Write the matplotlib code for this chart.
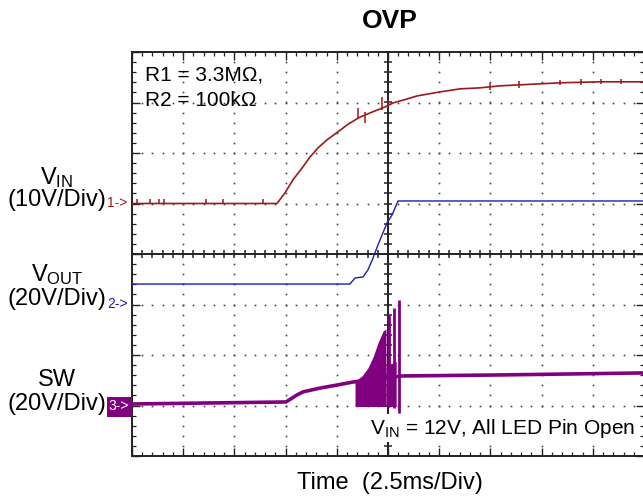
import numpy as np
import matplotlib.pyplot as plt
from matplotlib.patches import Rectangle

plt.rcParams['font.family'] = ['Liberation Sans', 'DejaVu Sans']
plt.rcParams['mathtext.fontset'] = 'custom'
plt.rcParams['mathtext.rm'] = 'Liberation Sans'
plt.rcParams['mathtext.it'] = 'Liberation Sans:italic'

# scope settings
ms_per_div = 2.5
n_xdiv = 10
n_ydiv = 8
vin_offset, vin_scale = 1.0, 10.0      # div, V/div
vout_offset, vout_scale = -1.0, 20.0
sw_offset, sw_scale = -3.0, 20.0

# CH1 VIN (ms, V)
vin_t = [0, 7.08, 7.47, 7.86, 8.30, 8.69, 9.08, 9.52, 10.06, 10.55, 11.13, 11.72,
         12.35, 12.74, 13.43, 13.92, 15.04, 16.02, 16.99, 17.97, 18.95, 19.92,
         20.90, 22.85, 25.0]
vin_v = [0, 0, 2.1, 4.7, 7.0, 9.2, 11.0, 12.6, 14.2, 15.7, 17.1, 18.1,
         19.1, 19.9, 20.7, 21.3, 22.1, 22.7, 22.9, 23.3, 23.5, 23.7,
         23.9, 24.1, 24.1]
vin_glitch_t = [0.24, 0.88, 1.32, 1.56, 3.61, 4.44, 6.40, 11.04, 11.38, 12.21,
                12.5, 17.5, 18.9, 20.9, 21.9, 22.9, 23.9]
vin_glitch_lo = [0, 0, 0, 0, 0, 0, 0, 16.9, 15.9, 18.5, 18.9, 22.4, 22.9, 23.4,
                 23.5, 23.6, 23.6]
vin_glitch_hi = [0.8, 0.8, 0.8, 0.8, 0.8, 0.8, 0.8, 18.9, 18.1, 21.1, 20.5,
                 23.8, 24.2, 24.4, 24.6, 24.6, 24.7]

# CH2 VOUT (ms, V)
vout_t = [0, 10.64, 10.89, 11.28, 11.52, 11.77, 12.01, 12.21, 12.45, 12.70, 12.99, 25.0]
vout_v = [8.1, 8.1, 10.5, 10.9, 13.7, 18.4, 23.6, 27.5, 32.3, 35.5, 41.0, 41.0]

# CH3 SW (ms, V)
sw_t = [0, 7.52, 8.06, 8.35, 9.18, 10.01, 10.79, 13.18, 17.97, 25.0]
sw_v = [0.6, 1.4, 4.2, 5.4, 6.9, 8.1, 9.3, 11.7, 12.1, 12.9]
# switching burst before OVP trips
burst_t = [10.89, 11.23, 11.52, 11.77, 12.01, 12.26, 12.40]
burst_top = [9.7, 11.7, 14.9, 19.2, 24.8, 29.5, 30.3]
burst_low = -0.4
tail_t = [12.40, 12.90]
tail_top = [15.5, 17.5]
spike_t = [12.57, 12.79, 13.04]
spike_top = [35.8, 38.6, 41.8]
spike_low = [-0.6, -1.0, -3.0]

c1 = '#9a1a1a'
c2 = '#1c1cb0'
c3 = '#800080'


def to_div(v, off, sc):
    return off + np.asarray(v, dtype=float) / sc


fig = plt.figure(figsize=(6.43, 5.03), dpi=100)
ax = fig.add_axes([132 / 643, 47 / 503, 512 / 643, 404 / 503])
t_max = ms_per_div * n_xdiv
ax.set_xlim(0, t_max)
ax.set_ylim(-n_ydiv / 2, n_ydiv / 2)

ax.set_xticks(np.arange(0, t_max + 0.01, ms_per_div))
ax.set_xticks(np.arange(0, t_max + 0.01, ms_per_div / 5), minor=True)
ax.set_yticks(np.arange(-4, 4.01, 1))
ax.set_yticks(np.arange(-4, 4.01, 0.2), minor=True)
ax.tick_params(which='both', direction='in', top=True, right=True,
               labelbottom=False, labelleft=False, color='#222')
ax.tick_params(which='major', length=6, width=1.0)
ax.tick_params(which='minor', length=3.2, width=0.9)
for s in ax.spines.values():
    s.set_linewidth(1.4)
    s.set_color('#222')

# dotted graticule
xs = np.arange(0, t_max + 0.01, ms_per_div / 5)
ys = np.arange(-4, 4.01, 0.2)
for gx in np.arange(ms_per_div, t_max, ms_per_div):
    if abs(gx - t_max / 2) > 0.01:
        ax.plot(np.full_like(ys, gx), ys, ls='none', marker='s', ms=1.2,
                mew=0, color='#444', zorder=1)
for gy in range(-3, 4):
    if gy != 0:
        ax.plot(xs, np.full_like(xs, gy), ls='none', marker='s', ms=1.2,
                mew=0, color='#444', zorder=1)

# centre cross with ticks
ax.axvline(t_max / 2, color='#222', lw=1.4, zorder=1)
ax.axhline(0, color='#222', lw=1.4, zorder=1)
ax.plot(xs, np.zeros_like(xs), ls='none', marker='|', ms=6, mew=1.1, color='#222', zorder=1)
ax.plot(np.full_like(ys, t_max / 2), ys, ls='none', marker='_', ms=6, mew=1.1,
        color='#222', zorder=1)

# traces
ax.plot(vin_t, to_div(vin_v, vin_offset, vin_scale), color=c1, lw=1.2, zorder=3)
ax.vlines(vin_glitch_t, to_div(vin_glitch_lo, vin_offset, vin_scale),
          to_div(vin_glitch_hi, vin_offset, vin_scale), color=c1, lw=1.1, zorder=3)
ax.plot(vout_t, to_div(vout_v, vout_offset, vout_scale), color=c2, lw=1.0, zorder=3)
ax.plot(sw_t, to_div(sw_v, sw_offset, sw_scale), color=c3, lw=2.6, zorder=3)
ax.fill_between(burst_t, to_div(burst_low, sw_offset, sw_scale),
                to_div(burst_top, sw_offset, sw_scale), color=c3, lw=0, zorder=3)
ax.fill_between(tail_t, to_div(burst_low, sw_offset, sw_scale),
                to_div(tail_top, sw_offset, sw_scale), color=c3, lw=0, zorder=3)
ax.vlines(spike_t, to_div(spike_low, sw_offset, sw_scale),
          to_div(spike_top, sw_offset, sw_scale), color=c3, lw=2.0, zorder=3)

# texts
fig.text(390 / 643, 1 - 21 / 503, 'OVP', ha='center', va='center',
         fontsize=19, fontweight='bold')
fig.text(145 / 643, 1 - 75 / 503, 'R1 = 3.3M\u03a9,', fontsize=15, va='center')
fig.text(145 / 643, 1 - 100 / 503, 'R2 = 100k\u03a9', fontsize=15, va='center')
fig.text(370 / 643, 1 - 428 / 503, r'V$_{\rm IN}$ = 12V, All LED Pin Open',
         fontsize=15, va='center', zorder=5,
         bbox=dict(boxstyle='square,pad=0.1', fc='white', ec='none'))
fig.text(390 / 643, 1 - 483 / 503, 'Time  (2.5ms/Div)', fontsize=17,
         ha='center', va='center')

fig.text(57 / 643, 1 - 178 / 503, r'V$_{\rm IN}$', fontsize=17, ha='center', va='center')
fig.text(57 / 643, 1 - 200 / 503, '(10V/Div)', fontsize=17, ha='center', va='center')
fig.text(57 / 643, 1 - 275 / 503, r'V$_{\rm OUT}$', fontsize=17, ha='center', va='center')
fig.text(57 / 643, 1 - 299 / 503, '(20V/Div)', fontsize=17, ha='center', va='center')
fig.text(57 / 643, 1 - 380 / 503, 'SW', fontsize=17, ha='center', va='center')
fig.text(57 / 643, 1 - 404 / 503, '(20V/Div)', fontsize=17, ha='center', va='center')

fig.text(107 / 643, 1 - 203 / 503, '1->', color=c1, fontsize=10, va='center')
fig.text(107 / 643, 1 - 304 / 503, '2->', color=c2, fontsize=10, va='center')
fig.add_artist(Rectangle((107 / 643, 1 - 417 / 503), 25 / 643, 20 / 503,
                         transform=fig.transFigure, fc=c3, ec='none'))
fig.text(108 / 643, 1 - 406 / 503, '3->', color='white', fontsize=10, va='center')

fig.savefig('out.png', dpi=100)
